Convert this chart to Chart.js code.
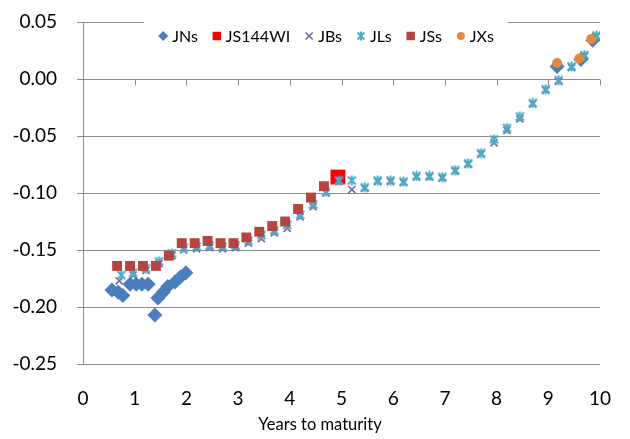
<!DOCTYPE html>
<html>
<head>
<meta charset="utf-8">
<script src="https://cdn.jsdelivr.net/npm/chart.js@4.4.1/dist/chart.umd.min.js"></script>
<style>
  html, body { margin: 0; padding: 0; background: #fff; }
</style>
</head>
<body>
<canvas id="Chart" width="630" height="439"></canvas>
<script>
// years to maturity / yield
const jnX = [0.56, 0.68, 0.77, 0.91, 1.03, 1.14, 1.26, 1.39, 1.45, 1.55, 1.64, 1.78, 1.88, 1.99, 9.17, 9.63, 9.86];
const jnY = [-0.185, -0.187, -0.190, -0.180, -0.180, -0.180, -0.180, -0.207, -0.192, -0.187, -0.182, -0.178, -0.174, -0.170, 0.011, 0.017, 0.034];

const wiX = [4.93];
const wiY = [-0.086];

const jbX = [0.70, 0.97, 1.22, 1.47, 1.72, 1.95, 2.2, 2.45, 2.7, 2.95, 3.2, 3.45, 3.7, 3.95, 4.2, 4.45, 4.7, 4.95, 5.2, 5.45, 5.7, 5.95, 6.2, 6.45, 6.7, 6.95, 7.2, 7.45, 7.7, 7.95, 8.2, 8.45, 8.7, 8.95, 9.2, 9.45, 9.7, 9.93];
const jbY = [-0.177, -0.172, -0.168, -0.162, -0.155, -0.150, -0.149, -0.148, -0.149, -0.148, -0.144, -0.140, -0.135, -0.131, -0.121, -0.112, -0.100, -0.090, -0.097, -0.096, -0.090, -0.090, -0.091, -0.086, -0.086, -0.087, -0.081, -0.075, -0.066, -0.056, -0.045, -0.035, -0.022, -0.010, -0.002, 0.010, 0.020, 0.037];

const jlX = [0.74, 0.97, 1.22, 1.47, 1.72, 1.95, 2.2, 2.45, 2.7, 2.95, 3.2, 3.45, 3.7, 3.95, 4.2, 4.45, 4.7, 4.95, 5.2, 5.45, 5.7, 5.95, 6.2, 6.45, 6.7, 6.95, 7.2, 7.45, 7.7, 7.95, 8.2, 8.45, 8.7, 8.95, 9.2, 9.45, 9.7, 9.93];
const jlY = [-0.172, -0.170, -0.166, -0.160, -0.153, -0.148, -0.147, -0.146, -0.147, -0.146, -0.142, -0.137, -0.133, -0.128, -0.119, -0.110, -0.099, -0.089, -0.089, -0.095, -0.089, -0.089, -0.090, -0.085, -0.085, -0.086, -0.080, -0.074, -0.065, -0.053, -0.043, -0.033, -0.021, -0.009, -0.001, 0.011, 0.021, 0.038];

const jsX = [0.66, 0.91, 1.16, 1.41, 1.66, 1.91, 2.16, 2.41, 2.66, 2.91, 3.16, 3.41, 3.66, 3.91, 4.16, 4.41, 4.66];
const jsY = [-0.164, -0.164, -0.164, -0.164, -0.155, -0.144, -0.144, -0.142, -0.144, -0.144, -0.139, -0.134, -0.129, -0.125, -0.114, -0.104, -0.094];

const jxX = [9.17, 9.60, 9.83];
const jxY = [0.014, 0.018, 0.035];

const xTicks = [0, 1, 2, 3, 4, 5, 6, 7, 8, 9, 10];
const xTitle = 'Years to maturity';

const FONT = 'Lato, "Open Sans", sans-serif';
const GRID = '#8c8c8c';

function pts(xs, ys) {
  return xs.map((x, i) => ({ x: x, y: ys[i] }));
}

// excel like star marker: X plus a vertical bar
function starMarker(size, color) {
  const c = document.createElement('canvas');
  c.width = size; c.height = size;
  const g = c.getContext('2d');
  g.strokeStyle = color;
  g.lineWidth = 2;
  const m = 1.5, e = size - 1.5, h = size / 2;
  g.beginPath();
  g.moveTo(m, m); g.lineTo(e, e);
  g.moveTo(e, m); g.lineTo(m, e);
  g.moveTo(h, 0.5); g.lineTo(h, size - 0.5);
  g.stroke();
  return c;
}
const star = starMarker(11, '#4BACC6');
const starSmall = starMarker(10, '#4BACC6');

const series = [
  { label: 'JNs', data: pts(jnX, jnY), pointStyle: 'rectRot', pointRadius: 7.5, backgroundColor: '#4A7EBB', borderColor: '#4A7EBB', pointBorderWidth: 0, order: 6,
    leg: { pointStyle: 'rectRot', radius: 5 } },
  { label: 'JS144WI', data: pts(wiX, wiY), pointStyle: 'rect', pointRadius: 10.5, backgroundColor: '#FF0000', borderColor: '#FF0000', pointBorderWidth: 0, order: 5,
    leg: { pointStyle: 'rect', radius: 6 } },
  { label: 'JBs', data: pts(jbX, jbY), pointStyle: 'crossRot', pointRadius: 5, backgroundColor: '#7D60A0', borderColor: '#7D60A0', pointBorderWidth: 1.6, order: 4,
    leg: { pointStyle: 'crossRot', radius: 5, borderWidth: 1.6 } },
  { label: 'JLs', data: pts(jlX, jlY), pointStyle: star, pointRadius: 5, backgroundColor: '#4BACC6', borderColor: '#4BACC6', order: 3,
    leg: { pointStyle: starSmall, radius: 5 } },
  { label: 'JSs', data: pts(jsX, jsY), pointStyle: 'rect', pointRadius: 7, backgroundColor: '#B5453F', borderColor: '#B5453F', pointBorderWidth: 0, order: 2,
    leg: { pointStyle: 'rect', radius: 6 } },
  { label: 'JXs', data: pts(jxX, jxY), pointStyle: 'circle', pointRadius: 5, backgroundColor: '#E8873A', borderColor: '#E8873A', pointBorderWidth: 0, order: 1,
    leg: { pointStyle: 'circle', radius: 4 } }
];

// x axis crosses at y = 0 with small tick marks
const zeroAxis = {
  id: 'zeroAxis',
  beforeDatasetsDraw(chart) {
    const { ctx, scales: { x, y } } = chart;
    const y0 = Math.round(y.getPixelForValue(0)) + 0.5;
    ctx.save();
    ctx.strokeStyle = GRID;
    ctx.lineWidth = 1;
    ctx.beginPath();
    xTicks.forEach(v => {
      const px = Math.round(x.getPixelForValue(v)) + 0.5;
      ctx.moveTo(px, y0);
      ctx.lineTo(px, y0 + 6);
    });
    ctx.stroke();
    ctx.restore();
  }
};

// legend inside plot area on a white box, and the axis title
const insideLegend = {
  id: 'insideLegend',
  afterDraw(chart) {
    const ctx = chart.ctx;
    const cy = 36;
    ctx.save();
    ctx.font = '16px ' + FONT;
    const items = chart.data.datasets.map(d => ({ d: d, w: ctx.measureText(d.label).width }));
    let total = 0;
    items.forEach(it => { total += 14 + it.w + 14; });
    total -= 14;
    let cur = 326 - total / 2;
    ctx.fillStyle = '#fff';
    ctx.fillRect(cur - 14, 16, total + 28, 36);
    ctx.textBaseline = 'middle';
    items.forEach(it => {
      const d = it.d;
      ctx.fillStyle = d.backgroundColor;
      ctx.strokeStyle = d.borderColor;
      ctx.lineWidth = d.leg.borderWidth || 1;
      Chart.helpers.drawPoint(ctx, { pointStyle: d.leg.pointStyle, radius: d.leg.radius, borderWidth: d.leg.borderWidth || 0, rotation: 0 }, cur + 5, cy);
      ctx.fillStyle = '#000';
      ctx.fillText(d.label, cur + 14, cy + 1);
      cur += 14 + it.w + 14;
    });

    ctx.font = '16.5px ' + FONT;
    ctx.textAlign = 'center';
    ctx.fillStyle = '#000';
    ctx.fillText(xTitle, 320, 425);
    ctx.restore();
  }
};

new Chart(document.getElementById('Chart').getContext('2d'), {
  type: 'scatter',
  data: { datasets: series },
  options: {
    responsive: false,
    animation: false,
    devicePixelRatio: 1,
    layout: { padding: { top: 22, right: 30, left: 0, bottom: 0 } },
    plugins: { legend: { display: false }, tooltip: { enabled: false } },
    scales: {
      x: {
        type: 'linear',
        min: 0, max: 10,
        afterBuildTicks(scale) { scale.ticks = xTicks.map(v => ({ value: v })); },
        afterFit(scale) { scale.height = 75; },
        grid: { display: false },
        border: { display: false },
        ticks: { padding: 15, color: '#000', font: { family: FONT, size: 19 }, maxRotation: 0 }
      },
      y: {
        min: -0.25, max: 0.05,
        afterFit(scale) { scale.width = 83; scale.paddingTop = 0; scale.paddingBottom = 0; },
        ticks: {
          stepSize: 0.05, padding: 20, color: '#000', font: { family: FONT, size: 19 },
          callback: v => (Math.round(v * 100) / 100).toFixed(2)
        },
        grid: { color: GRID, lineWidth: 1, tickLength: 6, drawTicks: true },
        border: { display: true, color: GRID, width: 1 }
      }
    }
  },
  plugins: [zeroAxis, insideLegend]
});
</script>
</body>
</html>
